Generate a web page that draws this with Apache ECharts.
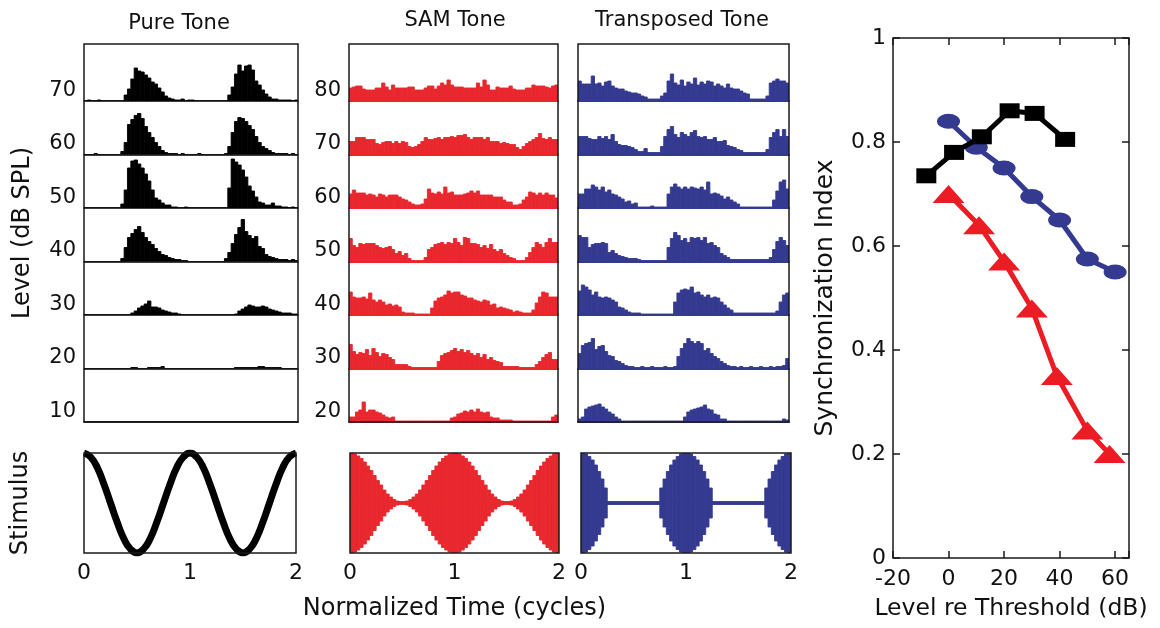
<!DOCTYPE html>
<html><head><meta charset="utf-8">
<script src="https://cdn.jsdelivr.net/npm/echarts@6/dist/echarts.min.js"></script>
<style>html,body{margin:0;padding:0;background:#fff}#c{width:1160px;height:628px}</style>
</head><body><div id="c"></div>
<script>
// ---------------- DATA ----------------
const columnTitles = ['Pure Tone', 'SAM Tone', 'Transposed Tone'];
const pureLevels = ['70','60','50','40','30','20','10'];
const samLevels  = ['80','70','60','50','40','30','20'];
const stimTicks = [0, 1, 2];

// period histograms, 64 bins over 2 cycles (top row = highest level)
const pureHist = [
 [0,1,0,0,1,0,0,0,0,0,0, 0,6,12,22,33,30,29,26,23,19,17,13,9,5,3,2,1,1,2,0,1,1, 0,0,0,0,0,0,0,0,0,0, 6,14,27,36,30,35,36,31,20,16,11,7,4,2,2,1,1,1,1,0,1],
 [0,0,0,1,0,0,0,0,0,0,0, 3,12,30,35,39,41,36,28,22,17,12,8,4,2,1,1,1,0,1,0,0, 0,0,1,0,0,0,0,0,0,0,1, 8,22,33,37,36,33,29,25,18,12,8,6,4,2,1,1,1,1,0,1,0],
 [0,0,0,0,0,0,0,0,0,0,0, 4,18,40,47,48,44,40,34,27,18,10,8,5,3,3,1,1,0,0,1,0, 0,0,0,0,0,0,0,0,0,0,0, 20,49,46,43,38,31,22,17,11,6,5,3,3,5,2,2,1,1,0,1,0],
 [0,0,0,0,0,0,0,0,0,0,0, 3,14,24,28,32,35,29,24,20,17,13,10,7,6,4,3,2,2,1,1,0, 0,0,0,0,0,0,0,0,0,0, 3,9,18,27,34,42,30,26,23,25,15,13,7,5,4,3,2,2,2,1,2,1],
 [0,0,0,0,0,0,0,0,0,0,0,0,0,0, 2,4,7,9,11,14,8,8,7,5,4,3,2,2,1,0, 0,0,0,0,0,0,0,0,0,0,0,0,0,0,0, 1,4,6,8,10,9,8,8,9,8,6,5,4,3,2,2,2,1,1],
 [0,0,0,0,0,0,0,0,0,0,0,0,0,0, 1,1, 0,0,0, 1,1,1,1,2, 0,0,0,0,0,0,0,0,0,0,0,0,0,0,0,0,0,0,0,0,0, 1,1,1,1,1,1,1,2,2,1,1,1,1,1, 0,0,0,0,0],
 [0,0,0,0,0,0,0,0,0,0,0,0,0,0,0,0,0,0,0,0,0,0,0,0,0,0,0,0,0,0,0,0, 0,0,0,0,0,0,0,0,0,0,0,0,0,0,0,0,0,0,0,0,0,0,0,0,0,0,0,0,0,0,0,0]
];
const samHist = [
 [13,14,15,15,12,11,11,11,13,13,18,14,11,16,13,13,13,13,14,14,11,11,11,13,15,15,12,15,18,16,21,16,14,14,14,13,13,13,13,18,14,21,16,11,11,14,13,13,13,15,12,11,11,11,13,13,16,15,15,15,14,13,15,16],
 [13,13,17,17,17,15,15,15,11,10,12,13,13,11,13,11,13,12,8,7,8,10,13,17,15,15,16,17,15,17,17,18,17,19,19,20,17,15,17,17,17,15,17,13,13,13,11,12,11,10,10,7,5,8,11,13,15,17,21,16,15,17,15,15],
 [14,18,15,15,15,13,14,13,11,14,13,11,13,13,13,11,9,8,6,4,3,3,4,9,19,15,14,16,14,21,15,16,13,13,13,14,15,17,15,17,13,13,13,13,11,11,11,8,6,6,3,3,4,8,11,16,15,13,15,13,15,13,13,10],
 [23,16,14,18,17,18,18,18,16,14,13,14,15,12,8,10,6,8,3,1,1,1,1,4,12,14,17,18,19,17,19,18,23,19,16,24,23,18,18,17,14,16,13,17,12,10,12,8,6,4,3,1,1,1,4,9,14,19,17,14,19,23,19,19],
 [23,18,17,17,18,16,22,15,13,15,13,10,11,9,10,8,3,2,2,2,1,1,1,1,1,7,14,17,18,20,24,22,23,23,20,19,17,17,15,14,13,15,14,10,11,7,8,7,6,5,3,4,3,2,2,2,5,12,18,23,22,18,18,18],
 [24,17,14,16,15,19,13,20,16,12,15,14,11,9,4,4,4,4,2,1,1,1,1,1,1,1,1,7,13,15,16,18,20,17,19,16,18,15,13,15,11,14,9,11,8,7,6,2,2,2,2,2,1,1,1,1,1,4,7,11,14,16,9,9],
 [5,5,10,12,20,10,12,12,10,9,7,5,4,5,1,1,1,1,1,1,1,1,1,1,1,1,1,1,1,1,1,4,5,8,9,11,10,12,10,13,10,9,10,5,4,4,2,2,2,2,1,1,1,1,1,1,1,1,1,1,1,1,5,7]
];
const transHist = [
 [20,17,17,17,25,17,18,15,19,20,15,13,12,12,10,9,8,8,7,5,4,2,2,2,2,5,8,20,27,18,16,21,15,19,17,23,16,19,17,20,19,15,17,15,13,17,13,12,12,10,8,7,2,2,2,2,2,5,18,20,22,20,20,18],
 [18,18,18,16,15,15,18,16,18,15,20,13,10,9,9,8,7,5,3,3,6,2,2,2,2,8,18,25,28,20,17,22,20,18,22,24,18,17,18,15,15,17,13,13,14,9,8,7,5,4,2,2,2,2,2,2,2,5,17,22,25,18,25,18],
 [14,14,19,19,23,21,18,21,16,18,14,13,11,9,6,7,4,5,1,1,1,1,2,1,1,1,1,14,21,24,21,19,21,19,21,20,19,21,18,26,14,15,14,12,9,11,8,6,4,1,1,1,1,1,1,1,1,1,1,8,17,26,28,19],
 [26,24,24,14,17,18,18,19,18,9,11,8,6,5,4,3,3,3,2,1,1,1,1,1,1,1,1,14,23,29,26,21,23,19,24,23,24,21,24,18,19,16,14,8,6,4,2,2,2,2,2,2,2,2,2,2,2,2,4,12,20,24,21,16],
 [24,30,28,25,20,23,18,17,18,17,15,13,8,7,5,3,2,2,2,1,1,1,1,1,1,1,1,1,1,13,22,25,26,25,28,22,23,20,18,20,17,18,17,13,10,7,5,2,2,2,2,2,2,2,2,2,2,2,2,2,4,13,20,22],
 [15,23,25,26,30,19,22,23,17,13,12,8,7,5,3,2,2,1,1,2,1,1,2,1,1,1,2,1,1,2,12,20,25,30,27,25,27,25,18,20,15,12,10,7,5,3,2,2,1,2,1,1,2,1,1,2,1,1,2,1,2,2,3,10],
 [3,5,13,15,16,17,18,15,13,10,8,5,3,1,1,1,1,1,1,1,1,1,1,1,1,1,1,1,1,1,1,1,5,10,12,13,14,15,17,13,12,8,7,3,3,1,1,1,1,1,1,1,1,1,1,1,1,1,1,1,1,1,3,2]
];

// stimulus waveforms
const pureStimTime = [0,0.0625,0.125,0.1875,0.25,0.3125,0.375,0.4375,0.5,0.5625,0.625,0.6875,0.75,0.8125,0.875,0.9375,1,
  1.0625,1.125,1.1875,1.25,1.3125,1.375,1.4375,1.5,1.5625,1.625,1.6875,1.75,1.8125,1.875,1.9375,2];
const pureStim = [1,0.92,0.71,0.38,0,-0.38,-0.71,-0.92,-1,-0.92,-0.71,-0.38,0,0.38,0.71,0.92,1,
  0.92,0.71,0.38,0,-0.38,-0.71,-0.92,-1,-0.92,-0.71,-0.38,0,0.38,0.71,0.92,1];
const samEnvelope = [1.00,0.98,0.94,0.89,0.82,0.74,0.65,0.55,0.45,0.36,0.26,0.18,0.12,0.07,0.04,0.03,
  0.03,0.04,0.07,0.12,0.18,0.26,0.36,0.45,0.55,0.65,0.74,0.82,0.89,0.94,0.98,1.00,
  1.00,0.98,0.94,0.89,0.82,0.74,0.65,0.55,0.45,0.36,0.26,0.18,0.12,0.07,0.04,0.03,
  0.03,0.04,0.07,0.12,0.18,0.26,0.36,0.45,0.55,0.65,0.74,0.82,0.89,0.94,0.98,1.00];
const transEnvelope = [1.00,0.98,0.93,0.86,0.76,0.63,0.48,0.30,
  0.03,0.03,0.03,0.03,0.03,0.03,0.03,0.03,0.03,0.03,0.03,0.03,0.03,0.03,0.03,0.03,
  0.30,0.48,0.63,0.76,0.86,0.93,0.98,1.00,1.00,0.98,0.93,0.86,0.76,0.63,0.48,0.30,
  0.03,0.03,0.03,0.03,0.03,0.03,0.03,0.03,0.03,0.03,0.03,0.03,0.03,0.03,0.03,0.03,
  0.30,0.48,0.63,0.76,0.86,0.93,0.98,1.00];

// synchronization index vs level re threshold
const pureLevelRe  = [-8, 2, 12, 22, 31, 42];
const pureSI       = [0.735, 0.78, 0.81, 0.86, 0.855, 0.805];
const transLevelRe = [0, 10, 20, 30, 40, 50, 60];
const transSI      = [0.84, 0.79, 0.75, 0.695, 0.65, 0.575, 0.55];
const samLevelRe   = [0, 11, 20, 30, 39, 50, 58];
const samSI        = [0.70, 0.64, 0.57, 0.48, 0.35, 0.245, 0.20];

// ---------------- CHART ----------------
const FONT = 'DejaVu Sans';
const INK = '#111';
const RED = '#e8282e';
const BLUE = '#343a8f';
const NBINS = pureHist[0].length;            // 64 bins over 2 cycles
const binEdge = i => 2 * i / NBINS;          // left edge of bin i (cycles)

const option = {
  animation: false,
  textStyle: { fontFamily: FONT, color: INK },
  grid: [], xAxis: [], yAxis: [], series: [], graphic: []
};
function addGrid(g) {
  option.grid.push(Object.assign({ containLabel: false, outerBoundsMode: 'none' }, g));
  return option.grid.length - 1;
}
const hidden = { axisLine: { show: false, onZero: false }, axisTick: { show: false }, axisLabel: { show: false }, splitLine: { show: false } };

// histogram: one rectangle per bin, positioned through the axes (api.coord)
function histSeries(vals, xi, yi, color) {
  return {
    type: 'custom', xAxisIndex: xi, yAxisIndex: yi, silent: true, clip: true,
    data: vals.map((v, i) => [binEdge(i), binEdge(i + 1), v]),
    encode: { x: [0, 1], y: 2 },
    renderItem: (params, api) => {
      const p0 = api.coord([api.value(0), 0]);
      const p1 = api.coord([api.value(1), api.value(2)]);
      return { type: 'rect',
        shape: { x: p0[0], y: Math.min(p0[1], p1[1]), width: p1[0] - p0[0], height: Math.abs(p1[1] - p0[1]) },
        style: { fill: color, stroke: color, lineWidth: 0.9 } };
    }
  };
}

const cols = [
  { left: 84,  width: 214, hist: pureHist,  levels: pureLevels, color: '#000', baseW: 1.5 },
  { left: 349, width: 209, hist: samHist,   levels: samLevels,  color: RED,    baseW: 2 },
  { left: 578, width: 211, hist: transHist, levels: null,       color: BLUE,   baseW: 2 }
];
const titleX = [179, 455, 682], titleY = [24, 21, 21];

cols.forEach((col, ci) => {
  option.graphic.push({ type: 'text', x: titleX[ci], y: titleY[ci], style: { text: columnTitles[ci], fontSize: 21, fontFamily: FONT, fill: INK, align: 'center', verticalAlign: 'middle', textAlign: 'center', textVerticalAlign: 'middle' } });
  const fg = addGrid({ left: col.left, top: 44, width: col.width, height: 378, show: true, borderColor: '#1a1a1a', borderWidth: 1.5, backgroundColor: 'rgba(0,0,0,0)', z: 5 });
  option.xAxis.push(Object.assign({ gridIndex: fg, type: 'value', min: 0, max: 2 }, hidden));
  option.yAxis.push(Object.assign({ gridIndex: fg, type: 'value', min: 0, max: 1,
    name: ci === 0 ? 'Level (dB SPL)' : '', nameLocation: 'middle', nameGap: 49, nameRotate: 90, nameMoveOverlap: false,
    nameTextStyle: { fontSize: 24, color: INK, fontFamily: FONT } }, hidden));
  col.hist.forEach((vals, k) => {
    const g = addGrid({ left: col.left, top: 47 + 53.5 * k, width: col.width, height: 54 });
    const xi = option.xAxis.push({ gridIndex: g, type: 'value', min: 0, max: 2, position: 'bottom',
      axisLine: { show: true, onZero: false, lineStyle: { color: col.color, width: col.baseW } },
      axisTick: { show: false }, axisLabel: { show: false }, splitLine: { show: false } }) - 1;
    const yi = option.yAxis.push({ gridIndex: g, type: 'value', min: 0, max: 54, interval: 54, position: 'left',
      axisLine: { show: false, onZero: false }, axisTick: { show: false }, splitLine: { show: false },
      axisLabel: { show: !!col.levels, formatter: v => (v === 0 && col.levels) ? col.levels[k] : '',
        fontSize: 21, color: INK, margin: 8, verticalAlign: 'bottom', fontFamily: FONT } }) - 1;
    option.series.push(histSeries(vals, xi, yi, col.color));
  });
});

// ---- stimulus panels ----
const stimTop = 453, stimH = 100;
const tickLabelStyle = { fontSize: 22, color: INK, margin: 9, fontFamily: FONT, formatter: v => stimTicks.includes(v) ? String(v) : '' };
// pure tone
{
  const g = addGrid({ left: 84, top: stimTop, width: 212, height: stimH, show: true, borderColor: '#1a1a1a', borderWidth: 1.5, backgroundColor: 'rgba(0,0,0,0)', z: 5 });
  const xi = option.xAxis.push({ gridIndex: g, type: 'value', min: 0, max: 2, interval: 1, position: 'bottom',
    axisLine: { show: false, onZero: false }, axisTick: { show: false }, splitLine: { show: false }, axisLabel: tickLabelStyle }) - 1;
  const yi = option.yAxis.push(Object.assign({ gridIndex: g, type: 'value', min: -1, max: 1, position: 'left',
    name: 'Stimulus', nameLocation: 'middle', nameGap: 51, nameRotate: 90, nameMoveOverlap: false,
    nameTextStyle: { fontSize: 24, color: INK, fontFamily: FONT } }, hidden)) - 1;
  option.series.push({ type: 'line', xAxisIndex: xi, yAxisIndex: yi, smooth: true, showSymbol: false, symbol: 'none', clip: true,
    data: pureStimTime.map((t, i) => [t, pureStim[i]]), lineStyle: { color: '#000', width: 7 }, silent: true });
}
function envelopePanel(left, width, env, color, withName) {
  const g = addGrid({ left: left, top: stimTop, width: width, height: stimH, show: true, borderColor: '#1a1a1a', borderWidth: 1.5, backgroundColor: 'rgba(0,0,0,0)', z: 5 });
  const xi = option.xAxis.push({ gridIndex: g, type: 'value', min: 0, max: 2, interval: 1, position: 'bottom',
    axisLine: { show: false, onZero: false }, axisTick: { show: false }, splitLine: { show: false }, axisLabel: tickLabelStyle,
    name: withName ? 'Normalized Time (cycles)' : '', nameLocation: 'middle', nameGap: 44, nameMoveOverlap: false,
    nameTextStyle: { fontSize: 24, color: INK, fontFamily: FONT } }) - 1;
  const yi = option.yAxis.push(Object.assign({ gridIndex: g, type: 'value', min: -1, max: 1, position: 'left' }, hidden)) - 1;
  option.series.push(histSeries(env, xi, yi, color));
  option.series.push(histSeries(env.map(v => -v), xi, yi, color));
}
envelopePanel(350, 209, samEnvelope, RED, true);
envelopePanel(581, 210, transEnvelope, BLUE, false);

// ---- synchronization index panel ----
{
  const g = addGrid({ left: 893, top: 38, width: 236, height: 520, show: true, borderColor: '#1a1a1a', borderWidth: 1.5, backgroundColor: 'rgba(0,0,0,0)' });
  const tick = { show: true, inside: true, length: 7, lineStyle: { color: '#1a1a1a', width: 1.5 } };
  const noLine = { show: false, onZero: false };
  const xi = option.xAxis.push({ gridIndex: g, type: 'value', min: -20, max: 65, interval: 20, position: 'bottom',
    axisLine: noLine, axisTick: tick, splitLine: { show: false },
    axisLabel: { fontSize: 22, color: INK, margin: 10, fontFamily: FONT, formatter: v => (v % 20 === 0) ? String(v) : '' },
    name: 'Level re Threshold (dB)', nameLocation: 'middle', nameGap: 39, nameMoveOverlap: false,
    nameTextStyle: { fontSize: 23.5, color: INK, fontFamily: FONT } }) - 1;
  option.xAxis.push({ gridIndex: g, type: 'value', min: -20, max: 65, interval: 20, position: 'top',
    axisLine: noLine, axisTick: tick, splitLine: { show: false }, axisLabel: { show: false } });
  const yi = option.yAxis.push({ gridIndex: g, type: 'value', min: 0, max: 1, interval: 0.2, position: 'left',
    axisLine: noLine, axisTick: tick, splitLine: { show: false },
    axisLabel: { fontSize: 22, color: INK, margin: 7, fontFamily: FONT },
    name: 'Synchronization Index', nameLocation: 'middle', nameGap: 55, nameRotate: 90, nameMoveOverlap: false,
    nameTextStyle: { fontSize: 25, color: INK, fontFamily: FONT } }) - 1;
  option.yAxis.push({ gridIndex: g, type: 'value', min: 0, max: 1, interval: 0.2, position: 'right',
    axisLine: noLine, axisTick: tick, splitLine: { show: false }, axisLabel: { show: false } });
  const mk = (xs, ys) => xs.map((x, i) => [x, ys[i]]);
  option.series.push({ type: 'line', xAxisIndex: xi, yAxisIndex: yi, data: mk(samLevelRe, samSI), clip: false,
    symbol: 'triangle', symbolSize: [32, 18], itemStyle: { color: '#ec1c24' }, lineStyle: { color: '#ec1c24', width: 5 }, silent: true, z: 3 });
  option.series.push({ type: 'line', xAxisIndex: xi, yAxisIndex: yi, data: mk(transLevelRe, transSI), clip: false,
    symbol: 'circle', symbolSize: [23, 15], itemStyle: { color: BLUE }, lineStyle: { color: BLUE, width: 5 }, silent: true, z: 4 });
  option.series.push({ type: 'line', xAxisIndex: xi, yAxisIndex: yi, data: mk(pureLevelRe, pureSI), clip: false,
    symbol: 'rect', symbolSize: [20, 15], itemStyle: { color: '#000' }, lineStyle: { color: '#000', width: 5 }, silent: true, z: 5 });
}

const chart = echarts.init(document.getElementById('c'), null, { renderer: 'canvas' });
chart.setOption(option);
</script>
</body></html>
